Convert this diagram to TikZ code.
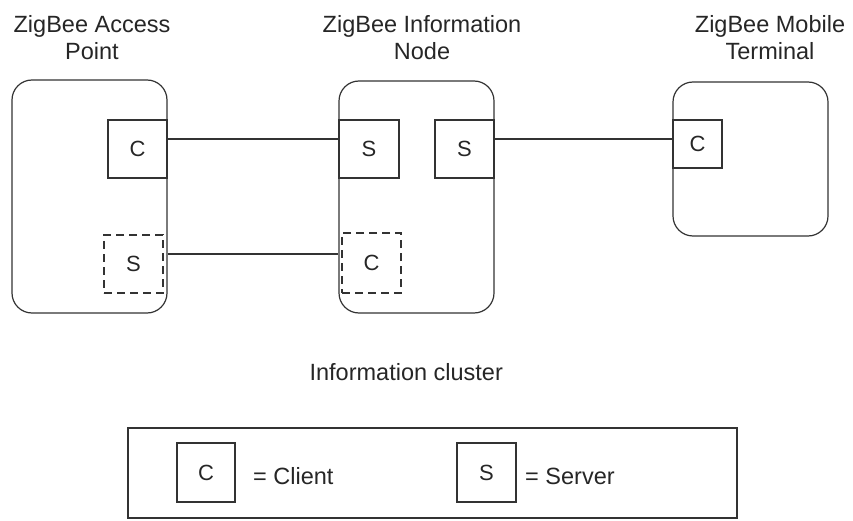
\documentclass[tikz,border=0pt]{standalone}
\usepackage{fontspec}
\setmainfont{Liberation Sans}
\usetikzlibrary{positioning}

\begin{document}
\begin{tikzpicture}[x=1pt,y=-1pt,line width=1.2pt,
    dev/.style={draw=black!80, rounded corners=20pt, inner sep=0pt},
    port/.style={draw=black!80, inner sep=0pt, text=black!85, font=\fontsize{22}{26}\selectfont},
    dport/.style={port, dash pattern=on 8pt off 5pt},
    ttl/.style={align=center, anchor=north, inner sep=0pt, text=black!85, font=\fontsize{23.5}{27}\selectfont},
    lbl/.style={inner sep=0pt, text=black!85, font=\fontsize{23.5}{27}\selectfont},
    wire/.style={draw=black!80}]
    \useasboundingbox (0,0) rectangle (853,521);

    % devices
    \node[dev, minimum width=155pt, minimum height=233pt] (ap)  at (89.5,196.5) {};
    \node[dev, minimum width=155pt, minimum height=232pt] (inf) at (416.5,197) {};
    \node[dev, minimum width=155pt, minimum height=154pt] (mob) at (750.5,159) {};

    \node[ttl] (apT)  at (92,15)  {ZigBee Access\\Point};
    \node[ttl] (infT) at (422,15) {ZigBee Information\\Node};
    \node[ttl] (mobT) at (770,15) {ZigBee Mobile\\Terminal};

    % clusters
    \node[port,  minimum width=59pt, minimum height=58pt] (apC)  at (137.5,149) {C};
    \node[dport, minimum width=59pt, minimum height=58pt] (apS)  at (133.5,264) {S};
    \node[port,  minimum width=60pt, minimum height=58pt] (infS) at (369,149)   {S};
    \node[port,  minimum width=59pt, minimum height=58pt] (infS2) at (464.5,149) {S};
    \node[dport, minimum width=59pt, minimum height=60pt] (infC) at (371.5,263) {C};
    \node[port,  minimum width=49pt, minimum height=48pt] (mobC) at (697.5,144) {C};

    \draw[wire] ([yshift=10pt]apC.east) -- ([yshift=10pt]infS.west);
    \draw[wire] ([yshift=10pt]apS.east -| ap.east) -- ([yshift=9pt]infC.west -| inf.west);
    \draw[wire] ([yshift=10pt]infS2.east) -- ([yshift=5pt]mobC.west);

    \node[lbl, anchor=west] (cap) at (309,372) {Information cluster};

    % legend
    \node[draw=black!80, inner sep=0pt, minimum width=609pt, minimum height=90pt] (key) at (432.5,473) {};
    \node[port, minimum width=58pt, minimum height=59pt] (keyC) at (206,472.5) {C};
    \node[lbl, right=17pt of keyC, yshift=-4pt] (keyCt) {= Client};
    \node[port, minimum width=59pt, minimum height=59pt] (keyS) at (486.5,472.5) {S};
    \node[lbl, right=8pt of keyS, yshift=-4pt] (keySt) {= Server};
\end{tikzpicture}
\end{document}
